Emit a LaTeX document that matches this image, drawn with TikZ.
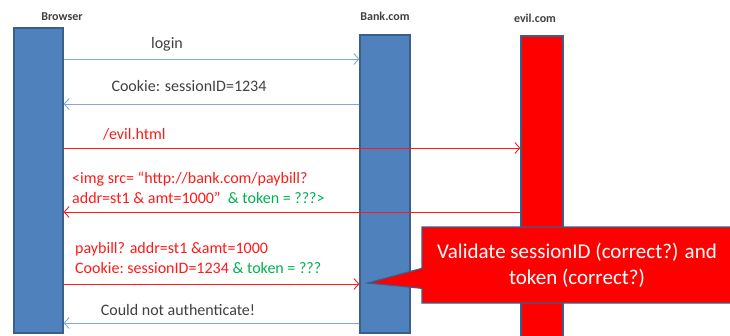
\documentclass[tikz,border=0pt]{standalone}
\usepackage{fontspec}
\setmainfont{Carlito}
\usetikzlibrary{arrows.meta,shapes.callouts}

\definecolor{barblue}{HTML}{4F81BD}
\definecolor{barline}{HTML}{3A5F8C}
\definecolor{msgblue}{HTML}{7FA7D8}
\definecolor{msgred}{HTML}{FF1A1A}
\definecolor{tokgreen}{HTML}{00B050}
\definecolor{txtgray}{HTML}{404040}

\tikzset{
	lifeline/.style={rectangle, draw=barline, line width=1.2pt, inner sep=0pt},
	actor/.style={font=\fontsize{12}{14}\selectfont\bfseries, text=txtgray},
	msgtext/.style={font=\fontsize{16}{19.5}\selectfont, inner sep=0pt},
	bluemsg/.style={draw=msgblue, line width=0.9pt, -{Straight Barb[length=5pt,width=11pt]}},
	redmsg/.style={draw=msgred, line width=0.9pt, -{Straight Barb[length=5pt,width=11pt]}}
}

\begin{document}
\begin{tikzpicture}[x=1pt, y=-1pt]
		\useasboundingbox (0,0) rectangle (730,335);
		
		% Lifelines
		\node[lifeline, fill=barblue, minimum width=49pt, minimum height=305pt] (browser) at (38.5,180.5) {};
		\node[lifeline, fill=barblue, minimum width=50pt, minimum height=298pt] (bank) at (385,184) {};
		\node[lifeline, fill=red, minimum width=42pt, minimum height=302pt] (evil) at (542,187) {};
		\node[actor] (browserlbl) at (62,17) {Browser};
		\node[actor] (banklbl) at (385,16) {Bank.com};
		\node[actor] (evillbl) at (535,18) {evil.com};
		
		% Messages
		\draw[bluemsg] (browser.east |- 0,59) -- (bank.west |- 0,59);
		\node[msgtext, text=txtgray] (login) at (167,44) {login};
		\draw[bluemsg] (bank.west |- 0,104) -- (browser.east |- 0,104);
		\node[msgtext, text=txtgray] (cookie) at (189,86) {Cookie: sessionID=1234};
		\draw[redmsg] (browser.east |- 0,148) -- (evil.west |- 0,148);
		\node[msgtext, text=msgred, anchor=west] (evilpage) at (103,134) {/evil.html};
		\draw[redmsg] (evil.west |- 0,212) -- (browser.east |- 0,212);
		\node[msgtext, text=msgred, anchor=west, align=left] (imgtag) at (72,188) {<img src= “http://bank.com/paybill?\\addr=st1 \& amt=1000”\ \ \textcolor{tokgreen}{\& token = ???>}};
		\draw[redmsg] (browser.east |- 0,284) -- (bank.west |- 0,284);
		\node[msgtext, text=msgred, anchor=west, align=left] (paybill) at (75,258) {paybill? addr=st1 \&amt=1000\\Cookie:\ sessionID=1234 \textcolor{tokgreen}{\& token = ???}};
		\draw[bluemsg] (bank.west |- 0,323) -- (browser.east |- 0,323);
		\node[msgtext, text=txtgray] (fail) at (178,310) {Could not authenticate!};
		
		% Check
		\node[rectangle callout, fill=red, draw=barline, line width=1.2pt, text=white, font=\fontsize{21}{26}\selectfont, align=center, minimum width=310pt, minimum height=76pt, callout absolute pointer={(368,283)}, callout pointer width=20pt] (check) at (577,265) {Validate sessionID (correct?) and\\token (correct?)};
		
	\end{tikzpicture}
\end{document}
